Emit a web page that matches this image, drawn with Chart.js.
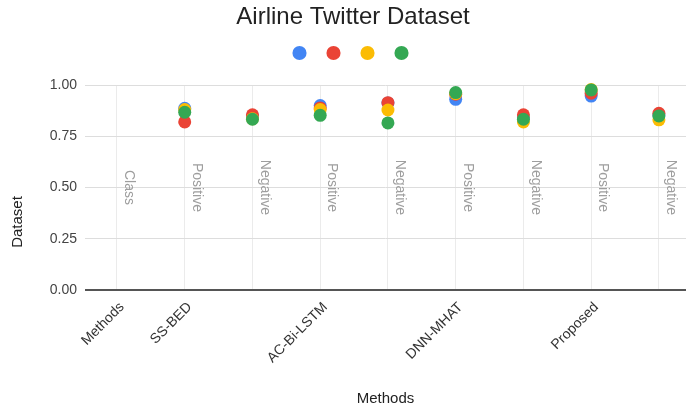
<!DOCTYPE html>
<html>
<head>
<meta charset="utf-8">
<script src="https://cdn.jsdelivr.net/npm/chart.js@4.4.0/dist/chart.umd.min.js"></script>
<style>
  html, body { margin: 0; padding: 0; background: #ffffff; }
  canvas { display: block; }
</style>
</head>
<body>
<canvas id="chart" width="686" height="410"></canvas>
<script>
// Category axis labels (one per column) and the rotated note shown in each column
const xLabels = ['Methods', 'SS-BED', '', 'AC-Bi-LSTM', '', 'DNN-MHAT', '', 'Proposed', ''];
const columnNotes = ['Class', 'Positive', 'Negative', 'Positive', 'Negative', 'Positive', 'Negative', 'Positive', 'Negative'];

// Four score series, one value per column (the first column holds no score)
const seriesBlue   = [null, 0.886, 0.850, 0.900, 0.912, 0.930, 0.840, 0.946, 0.855];
const seriesRed    = [null, 0.820, 0.855, 0.888, 0.914, 0.955, 0.855, 0.960, 0.862];
const seriesYellow = [null, 0.880, 0.835, 0.880, 0.878, 0.958, 0.820, 0.978, 0.830];
const seriesGreen  = [null, 0.867, 0.833, 0.852, 0.815, 0.963, 0.833, 0.976, 0.849];

const yTickValues = [0, 0.25, 0.5, 0.75, 1];

const FONT = "'Liberation Sans', Arial, sans-serif";
const palette = ['#4285F4', '#EA4335', '#FBBC04', '#34A853'];

function toPoints(values) {
  const pts = [];
  values.forEach((v, i) => { if (v !== null) pts.push({ x: i, y: v }); });
  return pts;
}

// Later series are painted over earlier ones (lower order = drawn last)
const allSeries = [seriesBlue, seriesRed, seriesYellow, seriesGreen];
const datasets = allSeries.map((values, k) => ({
  label: '',
  data: toPoints(values),
  backgroundColor: palette[k],
  borderWidth: 0,
  pointRadius: 6.5,
  pointHoverRadius: 6.5,
  order: allSeries.length - 1 - k,
  clip: false
}));

// Gray vertical notes drawn inside each column, centred on the 0.5 level
const columnNotesPlugin = {
  id: 'columnNotes',
  beforeDatasetsDraw(chart) {
    const { ctx, scales: { x, y } } = chart;
    ctx.save();
    ctx.font = '14px ' + FONT;
    ctx.fillStyle = '#9e9e9e';
    ctx.textAlign = 'center';
    ctx.textBaseline = 'middle';
    columnNotes.forEach((txt, i) => {
      const px = x.getPixelForValue(i) + 12;
      const py = y.getPixelForValue(0.5);
      ctx.save();
      ctx.translate(px, py);
      ctx.rotate(Math.PI / 2);
      ctx.fillText(txt, 0, 0);
      ctx.restore();
    });
    ctx.restore();
  }
};

// Vertical axis title
const yTitlePlugin = {
  id: 'yTitle',
  afterDraw(chart) {
    const { ctx } = chart;
    ctx.save();
    ctx.font = '15px ' + FONT;
    ctx.fillStyle = '#222222';
    ctx.textAlign = 'center';
    ctx.textBaseline = 'middle';
    ctx.translate(18, 222);
    ctx.rotate(-Math.PI / 2);
    ctx.fillText('Dataset', 0, 0);
    ctx.restore();
  }
};

new Chart(document.getElementById('chart'), {
  type: 'scatter',
  data: { datasets },
  plugins: [columnNotesPlugin, yTitlePlugin],
  options: {
    responsive: false,
    animation: false,
    devicePixelRatio: 1,
    layout: { autoPadding: false, padding: { left: 20, right: 0, top: 0, bottom: 0 } },
    plugins: {
      tooltip: { enabled: false },
      title: {
        display: true,
        text: 'Airline Twitter Dataset',
        color: '#222222',
        font: { family: FONT, size: 24, weight: 'normal', lineHeight: 1.0 },
        padding: { top: 5, bottom: 0 }
      },
      legend: {
        display: true,
        position: 'top',
        reverse: true,
        weight: 1000,
        labels: {
          usePointStyle: true,
          pointStyle: 'circle',
          boxWidth: 10,
          boxHeight: 10,
          padding: 19,
          font: { family: FONT, size: 10 }
        }
      },
      subtitle: {
        display: true,
        text: '',
        weight: 500,
        font: { family: FONT, size: 10, lineHeight: 1.2 },
        padding: { top: 0, bottom: 5 }
      }
    },
    scales: {
      x: {
        type: 'linear',
        min: -0.472,
        max: 8.4,
        afterBuildTicks(axis) {
          axis.ticks = xLabels.map((_, i) => ({ value: i }));
        },
        afterFit(axis) {
          axis.height = 120;
          axis.paddingLeft = 0;
          axis.paddingRight = 0;
        },
        ticks: {
          autoSkip: false,
          minRotation: 45,
          maxRotation: 45,
          padding: 9,
          labelOffset: 5,
          color: '#333333',
          font: { family: FONT, size: 14 },
          callback: (v) => xLabels[v] !== undefined ? xLabels[v] : ''
        },
        grid: { color: '#ebebeb', lineWidth: 1, drawTicks: false },
        border: { display: false },
        title: {
          display: true,
          text: 'Methods',
          color: '#222222',
          font: { family: FONT, size: 15 },
          padding: { top: 0, bottom: 2 }
        }
      },
      y: {
        min: 0,
        max: 1,
        afterBuildTicks(axis) {
          axis.ticks = yTickValues.map(v => ({ value: v }));
        },
        afterFit(axis) { axis.width = 65; },
        ticks: {
          padding: 8,
          color: '#444444',
          font: { family: FONT, size: 14 },
          callback: (v) => Number(v).toFixed(2)
        },
        grid: {
          drawTicks: false,
          color: (c) => (c.tick && c.tick.value === 0) ? '#555555' : '#dddddd',
          lineWidth: (c) => (c.tick && c.tick.value === 0) ? 2 : 1
        },
        border: { display: false }
      }
    }
  }
});
</script>
</body>
</html>
